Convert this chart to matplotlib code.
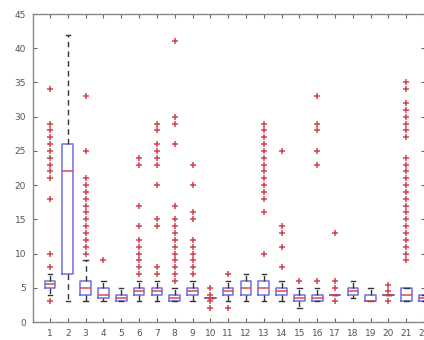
import matplotlib
matplotlib.use('Agg')
import matplotlib.pyplot as plt

# box statistics (one entry per group 1..22)
groups = list(range(1, 23))
q1 = [5, 7, 4, 3.5, 3, 4, 4, 3, 4, 3.5, 4, 4, 4, 4, 3, 3, 4, 4, 3, 4, 3, 3]
med = [5.5, 22, 5, 4, 3.5, 4.5, 4.5, 3.5, 4.5, 3.5, 4.5, 5, 5, 4.5, 3.5, 3.5, 4, 4.5, 3, 4, 4, 3.5]
q3 = [6, 26, 6, 5, 4, 5, 5, 4, 5, 3.5, 5, 6, 6, 5, 4, 4, 4, 5, 4, 4, 5, 4]
whislo = [4, 3, 3, 3, 3, 3, 3, 3, 3, 3.5, 3, 3, 3, 3, 2, 3, 4, 3.5, 3, 4, 3, 3]
whishi = [7, 42, 9, 6, 5, 6, 6, 5, 6, 3.5, 6, 7, 7, 6, 5, 5, 4, 6, 5, 4, 5, 4]
fliers = [
    [3, 8, 10, 18, 21, 22, 23, 24, 25, 26, 27, 28, 29, 34],
    [],
    [10, 11, 12, 13, 14, 15, 16, 17, 18, 19, 20, 21, 25, 33],
    [9],
    [],
    [7, 8, 9, 10, 11, 12, 14, 17, 23, 24],
    [7, 8, 14, 15, 20, 23, 24, 25, 26, 28, 29],
    [6, 7, 8, 9, 10, 11, 12, 13, 14, 15, 17, 26, 29, 30, 41],
    [7, 8, 9, 10, 11, 12, 15, 16, 20, 23],
    [2, 3, 4, 5],
    [2, 7],
    [],
    [10, 16, 18, 19, 20, 21, 22, 23, 24, 25, 26, 27, 28, 29],
    [8, 11, 13, 14, 25],
    [6],
    [6, 23, 25, 28, 29, 33],
    [3, 5, 6, 13],
    [],
    [],
    [3, 4.6, 5.4],
    [9, 10, 11, 12, 13, 14, 15, 16, 17, 18, 19, 20, 21, 22, 23, 24,
     27, 28, 29, 30, 31, 32, 34, 35],
    [],
]

stats = []
for i in range(len(groups)):
    stats.append({'med': med[i], 'q1': q1[i], 'q3': q3[i],
                  'whislo': whislo[i], 'whishi': whishi[i],
                  'fliers': fliers[i]})

fig = plt.figure(figsize=(4.24, 3.40), dpi=100)
ax = fig.add_axes([33/424, 18/340, 392/424, 308/340])

ax.bxp(stats, positions=groups, widths=0.6, capwidths=0.25,
       boxprops=dict(color='#6f6fe6', linewidth=1.1),
       medianprops=dict(color='#e04848', linewidth=1.1),
       whiskerprops=dict(color='#333333', linestyle=(0, (4, 3)), linewidth=1.0),
       capprops=dict(color='#333333', linewidth=1.0),
       flierprops=dict(marker='+', markeredgecolor='#d24452', markersize=5,
                       markeredgewidth=1.1, linestyle='none'))

ax.set_xlim(0.045, 22.05)
ax.set_ylim(0, 45)
ax.set_yticks(range(0, 46, 5))
ax.set_xticks(groups)
ax.set_xticklabels([str(g) for g in groups])

ax.tick_params(direction='in', top=True, right=True, length=3, width=0.8,
               color='#666666', labelsize=6.5, labelcolor='#555555', pad=5)
for s in ax.spines.values():
    s.set_color('#888888')
    s.set_linewidth(1.0)

fig.savefig('out.png', dpi=100)
